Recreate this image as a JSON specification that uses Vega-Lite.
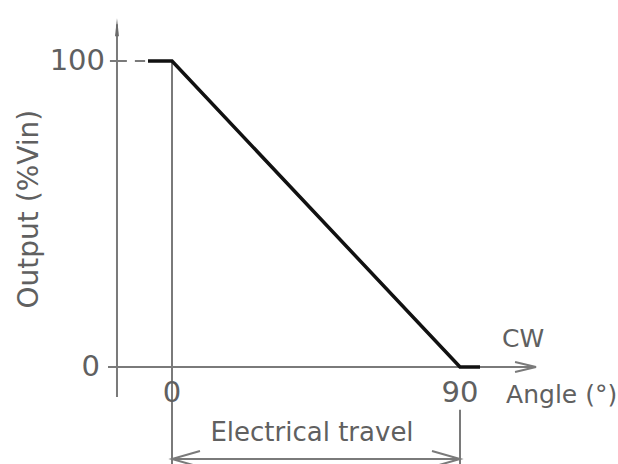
{
  "$schema": "https://vega.github.io/schema/vega-lite/v6.json",
  "width": 618,
  "height": 464,
  "padding": 0,
  "autosize": {"type": "none"},
  "background": "white",
  "config": {"view": {"stroke": null}},
  "datasets": {
    "guides": [
      {"seg": "yaxis", "i": 0, "angle": -17.19, "output": -9.8},
      {"seg": "yaxis", "i": 1, "angle": -17.19, "output": 112},
      {"seg": "xaxis", "i": 0, "angle": -20, "output": 0},
      {"seg": "xaxis", "i": 1, "angle": 113.75, "output": 0},
      {"seg": "xarrow", "i": 0, "angle": 107.2, "output": 1.63},
      {"seg": "xarrow", "i": 1, "angle": 113.75, "output": 0},
      {"seg": "xarrow", "i": 2, "angle": 107.2, "output": -1.63},
      {"seg": "ytick100", "i": 0, "angle": -19.4, "output": 100},
      {"seg": "ytick100", "i": 1, "angle": -14.1, "output": 100},
      {"seg": "dash", "i": 0, "angle": -11.6, "output": 100},
      {"seg": "dash", "i": 1, "angle": -8.4, "output": 100},
      {"seg": "v0", "i": 0, "angle": 0, "output": 100},
      {"seg": "v0", "i": 1, "angle": 0, "output": -31.7},
      {"seg": "v90", "i": 0, "angle": 90, "output": -14},
      {"seg": "v90", "i": 1, "angle": 90, "output": -31.7},
      {"seg": "dim", "i": 0, "angle": 0, "output": -30.07},
      {"seg": "dim", "i": 1, "angle": 90, "output": -30.07},
      {"seg": "dimL", "i": 0, "angle": 8.75, "output": -27.46},
      {"seg": "dimL", "i": 1, "angle": 0, "output": -30.07},
      {"seg": "dimL", "i": 2, "angle": 8.75, "output": -32.68},
      {"seg": "dimR", "i": 0, "angle": 81.25, "output": -27.46},
      {"seg": "dimR", "i": 1, "angle": 90, "output": -30.07},
      {"seg": "dimR", "i": 2, "angle": 81.25, "output": -32.68}
    ],
    "curve": [
      {"i": 0, "angle": -7.5, "output": 100},
      {"i": 1, "angle": 0, "output": 100},
      {"i": 2, "angle": 90, "output": 0},
      {"i": 3, "angle": 96.25, "output": 0}
    ],
    "arrowhead": [
      {"angle": -17.19, "output": 111.0}
    ],
    "ylabels": [
      {"label": "100", "angle": -20.94, "output": 100},
      {"label": "0", "angle": -22.5, "output": 0}
    ],
    "xlabels": [
      {"label": "0", "angle": 0, "output": -8.5},
      {"label": "90", "angle": 90, "output": -8.5}
    ],
    "leftwords": [
      {"label": "Angle (°)", "angle": 104.4, "output": -9.15},
      {"label": "CW", "angle": 103.1, "output": 9.15}
    ],
    "centerwords": [
      {"label": "Electrical travel", "angle": 43.75, "output": -21.57}
    ],
    "ytitle": [
      {"label": "Output (%Vin)", "angle": -44.4, "output": 51.6}
    ]
  },
  "encoding": {
    "x": {"field": "angle", "type": "quantitative", "scale": {"domain": [-53.75, 139.375], "nice": false, "zero": false}, "axis": null},
    "y": {"field": "output", "type": "quantitative", "scale": {"domain": [-31.7, 119.93], "nice": false, "zero": false}, "axis": null}
  },
  "layer": [
    {
      "data": {"name": "guides"},
      "mark": {"type": "line", "stroke": "#7a7a7a", "strokeWidth": 2},
      "encoding": {
        "detail": {"field": "seg"},
        "order": {"field": "i", "type": "quantitative"}
      }
    },
    {
      "data": {"name": "arrowhead"},
      "mark": {"type": "point", "shape": "M0,-1L0.22,1L-0.22,1Z", "size": 324, "filled": true, "color": "#6a6a6a", "opacity": 1}
    },
    {
      "data": {"name": "curve"},
      "mark": {"type": "line", "stroke": "#111111", "strokeWidth": 3.5, "strokeJoin": "miter"},
      "encoding": {
        "order": {"field": "i", "type": "quantitative"}
      }
    },
    {
      "data": {"name": "ylabels"},
      "mark": {"type": "text", "font": "DejaVu Sans", "fontSize": 29, "color": "#606060", "baseline": "middle", "align": "right"},
      "encoding": {"text": {"field": "label"}}
    },
    {
      "data": {"name": "xlabels"},
      "mark": {"type": "text", "font": "DejaVu Sans", "fontSize": 29, "color": "#606060", "baseline": "middle", "align": "center"},
      "encoding": {"text": {"field": "label"}}
    },
    {
      "data": {"name": "leftwords"},
      "mark": {"type": "text", "font": "DejaVu Sans", "fontSize": 25, "color": "#606060", "baseline": "middle", "align": "left"},
      "encoding": {"text": {"field": "label"}}
    },
    {
      "data": {"name": "centerwords"},
      "mark": {"type": "text", "font": "DejaVu Sans", "fontSize": 26, "color": "#606060", "baseline": "middle", "align": "center"},
      "encoding": {"text": {"field": "label"}}
    },
    {
      "data": {"name": "ytitle"},
      "mark": {"type": "text", "font": "DejaVu Sans", "fontSize": 28, "color": "#606060", "baseline": "middle", "align": "center", "angle": 270},
      "encoding": {"text": {"field": "label"}}
    }
  ]
}
